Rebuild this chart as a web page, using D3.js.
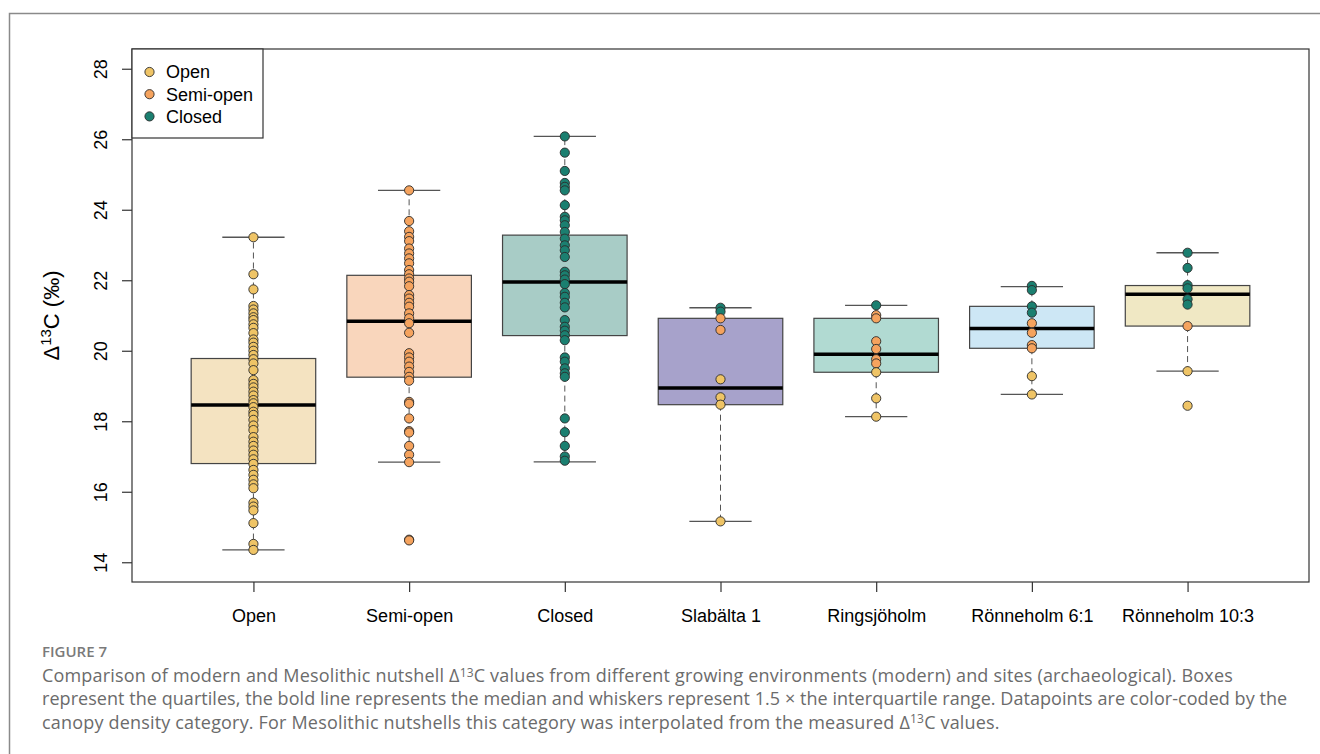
<!DOCTYPE html>
<html>
<head>
<meta charset="utf-8">
<script src="https://cdn.jsdelivr.net/npm/d3@7"></script>
<style>
  body { margin: 0; background: #fff; }
  svg { display: block; }
</style>
</head>
<body>
<svg id="chart" width="1320" height="754"></svg>
<script>
// Groups on the x axis
const groups = ['Open', 'Semi-open', 'Closed', 'Slabälta 1', 'Ringsjöholm', 'Rönneholm 6:1', 'Rönneholm 10:3'];
const boxFill = ['#f4e3c1', '#f9d6bc', '#a8ccc6', '#a7a2cb', '#b1dad2', '#cde7f5', '#f0e8c4'];

// Box statistics
const whiskLo = [14.35, 16.84, 16.85, 15.16, 18.13, 18.76, 19.42];
const q1 = [16.80, 19.25, 20.43, 18.47, 19.39, 20.07, 20.70];
const median = [18.46, 20.84, 21.95, 18.94, 19.90, 20.63, 21.60];
const q3 = [19.78, 22.14, 23.28, 20.92, 20.92, 21.26, 21.85];
const whiskHi = [23.22, 24.55, 26.08, 21.22, 21.29, 21.82, 22.78];

// Canopy categories (legend)
const canopy = ['Open', 'Semi-open', 'Closed'];
const canopyColor = ['#efc466', '#f5a35e', '#1b7f70'];

// Datapoints, modern
const openVals = [23.22, 22.17, 21.74, 21.27, 21.17, 21.06, 20.95, 20.87, 20.75, 20.65, 20.5, 20.32,
  20.23, 20.11, 20.0, 19.88, 19.76, 19.64, 19.45, 19.17, 19.06, 18.96, 18.84, 18.73, 18.6, 18.51,
  18.4, 18.27, 18.18, 18.04, 17.88, 17.75, 17.55, 17.42, 17.3, 17.17, 17.05, 16.92, 16.79, 16.62,
  16.48, 16.34, 16.21, 16.1, 15.69, 15.58, 15.47, 15.11, 14.52, 14.35];
const semiVals = [24.55, 23.68, 23.39, 23.23, 23.11, 22.9, 22.76, 22.62, 22.48, 22.29, 22.17, 22.05,
  21.96, 21.83, 21.58, 21.48, 21.36, 21.25, 21.06, 20.92, 20.78, 20.51, 19.93, 19.81, 19.69, 19.55,
  19.4, 19.26, 19.15, 18.55, 18.5, 18.08, 17.72, 17.68, 17.3, 17.05, 16.84, 14.64, 14.62];
const closedVals = [26.08, 25.62, 25.1, 24.76, 24.65, 24.55, 24.13, 23.8, 23.7, 23.56, 23.37, 23.18,
  22.99, 22.85, 22.66, 22.24, 22.14, 22.02, 21.89, 21.64, 21.53, 21.36, 21.23, 20.87, 20.68, 20.57,
  20.44, 20.3, 19.81, 19.69, 19.5, 19.36, 19.26, 18.08, 17.69, 17.3, 17.0, 16.88];

// Datapoints, archaeological sites (value + interpolated canopy class)
const slabVals = [21.22, 21.11, 20.92, 20.59, 19.19, 18.68, 18.47, 15.16];
const slabCat = ['Closed', 'Closed', 'Semi-open', 'Semi-open', 'Open', 'Open', 'Open', 'Open'];
const ringVals = [21.29, 21.01, 20.92, 20.27, 20.05, 19.76, 19.64, 19.39, 18.65, 18.13];
const ringCat = ['Closed', 'Semi-open', 'Semi-open', 'Semi-open', 'Semi-open', 'Semi-open', 'Semi-open', 'Open', 'Open', 'Open'];
const ron61Vals = [21.84, 21.72, 21.26, 21.08, 20.78, 20.51, 20.16, 20.07, 19.28, 18.76];
const ron61Cat = ['Closed', 'Closed', 'Closed', 'Closed', 'Semi-open', 'Semi-open', 'Semi-open', 'Semi-open', 'Open', 'Open'];
const ron103Vals = [22.78, 22.35, 21.86, 21.77, 21.46, 21.31, 20.7, 19.42, 18.44];
const ron103Cat = ['Closed', 'Closed', 'Closed', 'Closed', 'Closed', 'Closed', 'Semi-open', 'Open', 'Open'];

const yTicks = [14, 16, 18, 20, 22, 24, 26, 28];

// --------------------------------------------------------------------------

const svg = d3.select('#chart');
const W = 1320, H = 754;
const plot = { left: 132, right: 1309, top: 49, bottom: 582 };
const font = '"Liberation Sans", Arial, sans-serif';
const axisColor = '#333';

// R style ranges: xlim (0.5, 7.5) and ylim (14, 28), both padded 4%
const x = d3.scaleLinear().domain([0.22, 7.78]).range([plot.left, plot.right]);
const y = d3.scaleLinear().domain([13.44, 28.56]).range([plot.bottom, plot.top]);
const boxHalf = (x(1.4) - x(1)) ;
const capHalf = boxHalf / 2;

// Outer figure frame
svg.append('rect')
  .attr('x', 9.5).attr('y', 13.5)
  .attr('width', W + 20).attr('height', H + 20)
  .attr('fill', 'none').attr('stroke', '#8a8a8a').attr('stroke-width', 1.5);

// Build point list
const points = [];
openVals.forEach(v => points.push({ g: 0, v: v, c: 'Open' }));
semiVals.forEach(v => points.push({ g: 1, v: v, c: 'Semi-open' }));
closedVals.forEach(v => points.push({ g: 2, v: v, c: 'Closed' }));
slabVals.forEach((v, i) => points.push({ g: 3, v: v, c: slabCat[i] }));
ringVals.forEach((v, i) => points.push({ g: 4, v: v, c: ringCat[i] }));
ron61Vals.forEach((v, i) => points.push({ g: 5, v: v, c: ron61Cat[i] }));
ron103Vals.forEach((v, i) => points.push({ g: 6, v: v, c: ron103Cat[i] }));
const pointColor = d3.scaleOrdinal().domain(canopy).range(canopyColor);

// Boxes
const boxes = svg.append('g').attr('id', 'boxes');
const stats = groups.map((g, i) => ({
  i: i, name: g, lo: whiskLo[i], q1: q1[i], med: median[i], q3: q3[i], hi: whiskHi[i]
}));
const bg = boxes.selectAll('g').data(stats).enter().append('g');

// whiskers (dashed)
bg.append('line')
  .attr('x1', d => x(d.i + 1)).attr('x2', d => x(d.i + 1))
  .attr('y1', d => y(d.q3)).attr('y2', d => y(d.hi))
  .attr('stroke', '#555').attr('stroke-dasharray', '6,4');
bg.append('line')
  .attr('x1', d => x(d.i + 1)).attr('x2', d => x(d.i + 1))
  .attr('y1', d => y(d.q1)).attr('y2', d => y(d.lo))
  .attr('stroke', '#555').attr('stroke-dasharray', '6,4');
// caps
['hi', 'lo'].forEach(k => {
  bg.append('line')
    .attr('x1', d => x(d.i + 1) - capHalf).attr('x2', d => x(d.i + 1) + capHalf)
    .attr('y1', d => y(d[k])).attr('y2', d => y(d[k]))
    .attr('stroke', '#555').attr('stroke-width', 1.3);
});
// box
bg.append('rect')
  .attr('x', d => x(d.i + 1) - boxHalf)
  .attr('y', d => y(d.q3))
  .attr('width', boxHalf * 2)
  .attr('height', d => y(d.q1) - y(d.q3))
  .attr('fill', d => boxFill[d.i])
  .attr('stroke', '#444').attr('stroke-width', 1.2);
// median
bg.append('line')
  .attr('x1', d => x(d.i + 1) - boxHalf).attr('x2', d => x(d.i + 1) + boxHalf)
  .attr('y1', d => y(d.med)).attr('y2', d => y(d.med))
  .attr('stroke', '#000').attr('stroke-width', 3.5);

// Points
svg.append('g').attr('id', 'points')
  .selectAll('circle')
  .data(points)
  .enter()
  .append('circle')
  .attr('cx', d => x(d.g + 1))
  .attr('cy', d => y(d.v))
  .attr('r', 4.6)
  .attr('fill', d => pointColor(d.c))
  .attr('stroke', '#2a2a2a').attr('stroke-width', 0.9);

// Plot frame
svg.append('rect')
  .attr('x', plot.left).attr('y', plot.top)
  .attr('width', plot.right - plot.left).attr('height', plot.bottom - plot.top)
  .attr('fill', 'none').attr('stroke', axisColor).attr('stroke-width', 1.2);

// Y axis
const yAxis = svg.append('g')
  .attr('transform', `translate(${plot.left},0)`)
  .call(d3.axisLeft(y).tickValues(yTicks).tickSize(10).tickFormat(d3.format('d')));
yAxis.select('.domain').remove();
yAxis.selectAll('line').attr('stroke', axisColor).attr('stroke-width', 1.2);
yAxis.selectAll('text')
  .attr('transform', 'rotate(-90)')
  .attr('x', 0).attr('y', -25).attr('dy', null)
  .attr('text-anchor', 'middle')
  .attr('fill', '#000')
  .style('font-family', font).style('font-size', '18px');

// X axis
const xAxis = svg.append('g')
  .attr('transform', `translate(0,${plot.bottom})`)
  .call(d3.axisBottom(x).tickValues(d3.range(1, groups.length + 1)).tickSize(10)
    .tickFormat(d => groups[d - 1]));
xAxis.select('.domain').remove();
xAxis.selectAll('line').attr('stroke', axisColor).attr('stroke-width', 1.2);
xAxis.selectAll('text')
  .attr('y', 40).attr('dy', null)
  .attr('fill', '#000')
  .style('font-family', font).style('font-size', '18px');

// Y axis title: Δ13C (‰)
const yTitle = svg.append('text')
  .attr('transform', `translate(59,${(plot.top + plot.bottom) / 2}) rotate(-90)`)
  .attr('text-anchor', 'middle')
  .style('font-family', font).style('font-size', '22px');
yTitle.append('tspan').text('Δ');
yTitle.append('tspan').attr('dy', -8).style('font-size', '15px').text('13');
yTitle.append('tspan').attr('dy', 8).text('C (‰)');

// Legend
const legend = svg.append('g').attr('id', 'legend');
legend.append('rect')
  .attr('x', plot.left).attr('y', plot.top)
  .attr('width', 131).attr('height', 89)
  .attr('fill', '#fff').attr('stroke', axisColor).attr('stroke-width', 1.2);
const li = legend.selectAll('g.item').data(canopy).enter().append('g')
  .attr('class', 'item')
  .attr('transform', (d, i) => `translate(149.5,${72 + i * 22.2})`);
li.append('circle').attr('r', 4.6)
  .attr('fill', d => pointColor(d)).attr('stroke', '#2a2a2a').attr('stroke-width', 0.9);
li.append('text').attr('x', 16.5).attr('dy', '0.36em')
  .style('font-family', font).style('font-size', '18px')
  .text(d => d);

// Caption
const capFont = '"Open Sans", "Noto Sans", sans-serif';
svg.append('text')
  .attr('x', 42).attr('y', 657)
  .attr('fill', '#7a7a7a')
  .style('font-family', capFont).style('font-size', '15px').style('font-weight', 600)
  .text('FIGURE 7');

const capLines = [
  ['Comparison of modern and Mesolithic nutshell Δ', '13', 'C values from different growing environments (modern) and sites (archaeological). Boxes'],
  ['represent the quartiles, the bold line represents the median and whiskers represent 1.5 × the interquartile range. Datapoints are color-coded by the'],
  ['canopy density category. For Mesolithic nutshells this category was interpolated from the measured Δ', '13', 'C values.']
];
capLines.forEach((parts, i) => {
  const t = svg.append('text')
    .attr('x', 42).attr('y', 682 + i * 23.3)
    .attr('fill', '#6b6b6b')
    .style('font-family', capFont).style('font-size', '18px')
    .style('letter-spacing', i === 1 ? '0.05px' : '0.18px');
  parts.forEach((p, j) => {
    const s = t.append('tspan').text(p);
    if (parts.length > 1 && j === 1) s.attr('dy', -5.5).style('font-size', '12px');
    if (parts.length > 1 && j === 2) s.attr('dy', 5.5);
  });
});
</script>
</body>
</html>
